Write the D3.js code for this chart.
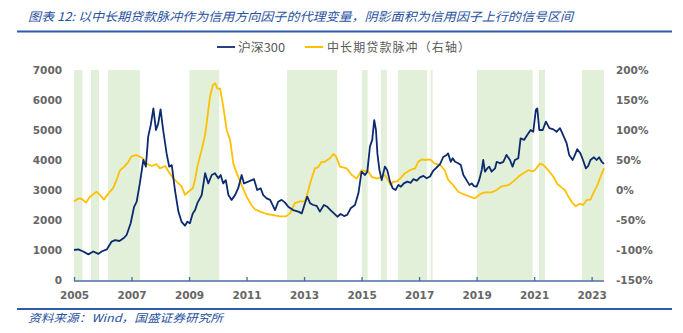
<!DOCTYPE html>
<html><head><meta charset="utf-8">
<script src="https://cdn.jsdelivr.net/npm/d3@7"></script>
<style>
body{margin:0;background:#fff;}
svg{display:block;}
</style></head>
<body><svg id="c" width="683" height="333"></svg>
<script>
const titleText = "图表 12:  以中长期贷款脉冲作为信用方向因子的代理变量，阴影面积为信用因子上行的信号区间";
const sourceText = "资料来源：Wind，国盛证券研究所";
const seriesNames = ["沪深300", "中长期贷款脉冲（右轴）"];
const xTicks = [2005, 2007, 2009, 2011, 2013, 2015, 2017, 2019, 2021, 2023];
const yLeftTicks = [0, 1000, 2000, 3000, 4000, 5000, 6000, 7000];
const yRightTicks = [-150, -100, -50, 0, 50, 100, 150, 200];
// shaded signal periods (decimal years)
const shadeStart = [2005.00, 2005.59, 2006.18, 2009.01, 2012.41, 2015.01, 2015.67, 2016.27, 2017.40, 2019.01, 2021.17, 2022.66];
const shadeEnd   = [2005.29, 2005.87, 2007.29, 2010.05, 2014.15, 2015.21, 2015.88, 2017.28, 2017.47, 2020.95, 2021.38, 2023.43];
// CSI 300
const csiT = [2005.00,2005.15,2005.32,2005.50,2005.67,2005.85,2005.96,2006.14,2006.31,2006.43,2006.58,2006.72,2006.83,2006.97,2007.09,2007.18,2007.29,2007.41,2007.50,2007.58,2007.67,2007.76,2007.85,2007.93,2008.01,2008.10,2008.22,2008.31,2008.40,2008.51,2008.63,2008.74,2008.86,2008.94,2009.03,2009.13,2009.21,2009.29,2009.44,2009.56,2009.67,2009.79,2009.90,2010.02,2010.10,2010.19,2010.28,2010.37,2010.48,2010.60,2010.71,2010.83,2010.91,2011.06,2011.26,2011.37,2011.49,2011.58,2011.70,2011.82,2011.99,2012.10,2012.22,2012.34,2012.45,2012.62,2012.80,2012.92,2013.03,2013.11,2013.21,2013.32,2013.44,2013.55,2013.69,2013.81,2013.92,2014.04,2014.16,2014.27,2014.39,2014.50,2014.62,2014.77,2014.89,2015.00,2015.12,2015.20,2015.29,2015.37,2015.44,2015.50,2015.55,2015.62,2015.70,2015.81,2015.89,2015.99,2016.08,2016.18,2016.28,2016.37,2016.47,2016.59,2016.71,2016.80,2016.92,2017.03,2017.15,2017.26,2017.38,2017.49,2017.61,2017.73,2017.84,2017.96,2018.01,2018.10,2018.17,2018.25,2018.36,2018.45,2018.54,2018.65,2018.75,2018.83,2018.91,2019.00,2019.09,2019.18,2019.23,2019.29,2019.37,2019.44,2019.52,2019.64,2019.70,2019.81,2019.93,2020.04,2020.16,2020.25,2020.33,2020.45,2020.53,2020.65,2020.76,2020.88,2020.97,2021.06,2021.11,2021.18,2021.30,2021.41,2021.53,2021.67,2021.78,2021.90,2022.01,2022.13,2022.22,2022.34,2022.42,2022.50,2022.61,2022.70,2022.80,2022.88,2022.96,2023.08,2023.17,2023.26,2023.35,2023.43];
const csiV = [1000,1020,950,855,950,870,950,1020,1280,1330,1300,1390,1500,1890,2440,2610,3220,4000,3780,4780,5170,5720,5000,5220,5690,5000,4220,3780,3830,3000,2280,1940,1810,1940,1890,2220,2330,2560,2830,3560,3220,3500,3560,3390,3500,3220,3330,2830,2670,2830,3060,3500,3220,3280,3360,3000,3060,2830,2720,2670,2330,2610,2670,2580,2440,2330,2280,2220,2560,2780,2560,2500,2470,2280,2500,2440,2330,2220,2110,2200,2130,2170,2390,2500,2890,3610,3500,3610,4440,4670,5330,5000,4220,3670,3330,3780,3670,3280,3060,3000,3170,3110,3220,3280,3240,3360,3310,3420,3470,3390,3450,3640,3750,3860,4100,4170,4220,3940,4060,3940,3890,3830,3500,3330,3170,3220,3130,3110,3330,3670,4000,3610,3720,3780,3610,3720,3940,3890,3940,4170,4000,3780,4000,4060,4720,4670,4830,5000,4940,5670,5720,5000,5000,5280,5060,5020,4940,5060,4830,4560,4170,4000,4170,4360,4220,4000,3720,3800,4000,4090,4000,4090,3940,3870];
// mid/long-term loan impulse (%), right axis
const pulseT = [2005.00,2005.15,2005.27,2005.42,2005.56,2005.70,2005.79,2005.90,2006.04,2006.19,2006.36,2006.48,2006.60,2006.75,2006.89,2007.00,2007.16,2007.27,2007.39,2007.53,2007.70,2007.87,2007.99,2008.17,2008.28,2008.46,2008.57,2008.74,2008.86,2008.98,2009.13,2009.21,2009.29,2009.44,2009.56,2009.64,2009.73,2009.83,2009.91,2009.99,2010.08,2010.19,2010.31,2010.43,2010.54,2010.66,2010.83,2011.00,2011.17,2011.29,2011.47,2011.70,2011.93,2012.16,2012.37,2012.51,2012.68,2012.86,2013.03,2013.15,2013.26,2013.38,2013.49,2013.61,2013.72,2013.90,2014.02,2014.11,2014.25,2014.48,2014.66,2014.83,2015.00,2015.12,2015.20,2015.35,2015.53,2015.70,2015.81,2015.89,2016.01,2016.10,2016.22,2016.34,2016.51,2016.68,2016.86,2016.97,2017.09,2017.20,2017.38,2017.55,2017.73,2017.90,2018.01,2018.19,2018.36,2018.54,2018.71,2018.94,2019.12,2019.29,2019.52,2019.70,2019.87,2020.10,2020.27,2020.45,2020.62,2020.80,2020.97,2021.08,2021.20,2021.32,2021.49,2021.67,2021.81,2021.96,2022.07,2022.19,2022.34,2022.45,2022.59,2022.70,2022.82,2022.96,2023.08,2023.20,2023.31,2023.43];
const pulseV = [-19,-14,-15,-21,-11,-6,-3,-8,-16,-6,3,17,33,39,47,56,58,56,53,44,40,43,36,40,31,19,14,6,-8,-3,3,17,39,67,92,122,156,175,178,169,169,139,100,83,44,28,8,-11,-25,-32,-36,-40,-42,-44,-44,-39,-22,-19,-19,0,19,36,38,47,47,53,60,56,39,36,25,19,33,31,33,22,19,22,25,19,8,14,14,19,28,33,36,47,51,50,51,44,42,32,17,8,-3,-7,-10,-14,-7,-4,-4,0,6,8,14,22,28,33,31,36,44,42,33,22,10,4,0,-11,-22,-27,-23,-25,-17,-16,-3,8,22,36];

const svg = d3.select("#c");
const X0 = 74, X1 = 604, Ytop = 70, Ybot = 280;
const x = d3.scaleLinear().domain([2005, 2023.43]).range([X0, X1]);
const yL = d3.scaleLinear().domain([0, 7000]).range([Ybot, Ytop]);
const yR = d3.scaleLinear().domain([-150, 200]).range([Ybot, Ytop]);
const blue = "#2e5ca8";

// title
svg.append("text").attr("x", 28).attr("y", 21)
  .attr("font-family", "'Noto Sans CJK SC'").attr("font-style", "italic")
  .attr("font-size", 12).attr("fill", "#2850a0")
  .attr("textLength", 545).attr("lengthAdjust", "spacingAndGlyphs")
  .text(titleText);
svg.append("line").attr("x1", 17).attr("x2", 672).attr("y1", 31.5).attr("y2", 31.5)
  .attr("stroke", blue).attr("stroke-width", 1.8);
svg.append("line").attr("x1", 17).attr("x2", 672).attr("y1", 309).attr("y2", 309)
  .attr("stroke", blue).attr("stroke-width", 1.8);
svg.append("text").attr("x", 28).attr("y", 322)
  .attr("font-family", "'Noto Sans CJK SC'").attr("font-style", "italic")
  .attr("font-size", 11).attr("fill", "#2850a0")
  .attr("textLength", 195).attr("lengthAdjust", "spacingAndGlyphs")
  .text(sourceText);

// shading
const shades = shadeStart.map((s, i) => [s, shadeEnd[i]]);
svg.append("g").selectAll("rect").data(shades).join("rect")
  .attr("x", d => x(d[0])).attr("width", d => x(d[1]) - x(d[0]))
  .attr("y", Ytop).attr("height", Ybot - Ytop)
  .attr("fill", "#e2efd9");

// axes
const tickFont = g => g.selectAll("text")
  .attr("font-family", "'DejaVu Sans'").attr("font-weight", "bold")
  .attr("font-size", 10.5).attr("fill", "#666666");
const gL = svg.append("g").attr("transform", `translate(${X0},0)`)
  .call(d3.axisLeft(yL).tickValues(yLeftTicks).tickSize(0).tickPadding(12).tickFormat(d3.format("d")));
gL.select(".domain").remove(); tickFont(gL);
const gR = svg.append("g").attr("transform", `translate(${X1},0)`)
  .call(d3.axisRight(yR).tickValues(yRightTicks).tickSize(0).tickPadding(12).tickFormat(d => d + "%"));
gR.select(".domain").remove(); tickFont(gR);

// lines
const lineL = d3.line().x((d, i) => x(csiT[i])).y(d => yL(d));
const lineR = d3.line().x((d, i) => x(pulseT[i])).y(d => yR(d));
svg.append("path").datum(pulseV).attr("d", lineR).attr("fill", "none")
  .attr("stroke", "#ffc000").attr("stroke-width", 1.8).attr("stroke-linejoin", "round");
svg.append("path").datum(csiV).attr("d", lineL).attr("fill", "none")
  .attr("stroke", "#0c2a6e").attr("stroke-width", 1.8).attr("stroke-linejoin", "round");

const gX = svg.append("g").attr("transform", `translate(0,${Ybot + 1})`)
  .call(d3.axisBottom(x).tickValues(xTicks).tickSize(-4).tickPadding(11).tickFormat(d3.format("d")));
gX.select(".domain").attr("stroke", "#4a6aa5").attr("stroke-width", 1.5).attr("d", `M${X0},0H${X1}`);
gX.selectAll(".tick line").attr("stroke", "#4a6aa5").attr("stroke-width", 1.3);
tickFont(gX);

// legend
const leg = svg.append("g");
leg.append("line").attr("x1", 217).attr("x2", 235).attr("y1", 47).attr("y2", 47)
  .attr("stroke", "#2a3f7e").attr("stroke-width", 2);
leg.append("text").attr("x", 238).attr("y", 51.5).attr("font-family", "'Noto Sans CJK SC'")
  .attr("font-size", 12).attr("fill", "#595959")
  .attr("textLength", 47).attr("lengthAdjust", "spacingAndGlyphs").text(seriesNames[0]);
leg.append("line").attr("x1", 305).attr("x2", 323).attr("y1", 47).attr("y2", 47)
  .attr("stroke", "#ffc000").attr("stroke-width", 2);
leg.append("text").attr("x", 327).attr("y", 51.5).attr("font-family", "'Noto Sans CJK SC'")
  .attr("font-size", 12).attr("fill", "#595959")
  .attr("textLength", 143).attr("lengthAdjust", "spacing").text(seriesNames[1]);
</script></body></html>
